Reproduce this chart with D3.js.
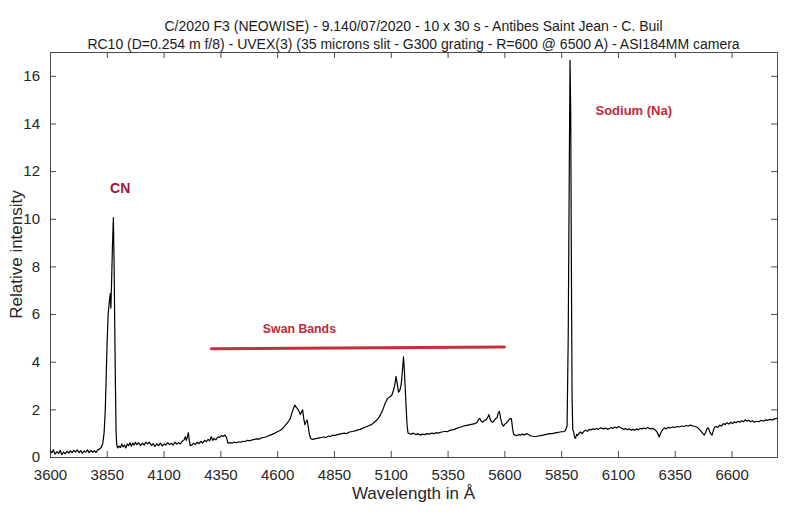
<!DOCTYPE html>
<html>
<head>
<meta charset="utf-8">
<script src="https://cdn.jsdelivr.net/npm/d3@7/dist/d3.min.js"></script>
<style>
  html, body { margin: 0; padding: 0; background: #ffffff; }
  svg { display: block; }
</style>
</head>
<body>
<svg id="chart" width="799" height="518"></svg>
<script>
// ---------- data ----------
const titleLines = [
  "C/2020 F3 (NEOWISE) - 9.140/07/2020 - 10 x 30 s - Antibes Saint Jean - C. Buil",
  "RC10 (D=0.254 m f/8) - UVEX(3) (35 microns slit - G300 grating - R=600 @ 6500 A) - ASI184MM camera"
];
const xTicks = [3600, 3850, 4100, 4350, 4600, 4850, 5100, 5350, 5600, 5850, 6100, 6350, 6600];
const yTicks = [0, 2, 4, 6, 8, 10, 12, 14, 16];
const xLabel = "Wavelength in Å";
const yLabel = "Relative intensity";

const wavelength = [
 3600,3608,3615,3622,3630,3638,3645,3652,3660,3668,3675,3683,3690,3698,3705,3712,3720,3728,3735,3742,
 3750,3758,3765,3772,3780,3788,3795,3803,3810,3818,3825,3832,3838,3843,3847,3851,3856,3861,3865,3868,
 3871,3875,3879,3882,3885,3888,3891,3894,3898,3904,3910,3916,3922,3928,3934,3940,3946,3952,3958,3964,
 3970,3976,3982,3990,3998,4006,4014,4022,4030,4038,4046,4054,4062,4070,4078,4086,4094,4102,4110,4118,
 4126,4134,4142,4150,4158,4166,4174,4182,4190,4196,4200,4204,4209,4213,4217,4224,4232,4240,4248,4256,
 4264,4272,4280,4288,4296,4303,4310,4316,4322,4330,4338,4346,4354,4362,4370,4377,4383,4390,4400,4410,
 4420,4430,4440,4450,4460,4470,4480,4490,4500,4510,4520,4530,4540,4550,4560,4570,4580,4590,4600,4610,
 4620,4630,4640,4650,4658,4665,4672,4678,4684,4690,4696,4702,4707,4712,4717,4722,4727,4732,4737,4742,
 4747,4755,4765,4775,4785,4795,4805,4815,4825,4835,4845,4855,4865,4875,4885,4895,4905,4915,4925,4935,
 4945,4955,4965,4975,4985,4995,5005,5015,5025,5035,5045,5055,5065,5075,5085,5095,5105,5112,5118,5123,
 5128,5134,5140,5146,5151,5156,5160,5164,5168,5172,5176,5182,5190,5200,5210,5220,5230,5240,5250,5260,
 5270,5280,5290,5300,5310,5320,5330,5340,5350,5360,5370,5380,5390,5400,5410,5420,5430,5440,5450,5460,
 5470,5480,5487,5492,5498,5505,5512,5520,5527,5532,5537,5542,5548,5555,5562,5568,5573,5578,5584,5590,
 5596,5602,5608,5614,5620,5626,5631,5636,5641,5648,5656,5664,5672,5680,5688,5696,5704,5712,5720,5730,
 5740,5750,5760,5770,5780,5790,5800,5810,5820,5830,5840,5850,5860,5868,5876,5881,5885,5889,5892,5895,
 5898,5901,5905,5909,5913,5918,5923,5928,5935,5942,5950,5958,5966,5974,5982,5990,5998,6006,6014,6022,
 6030,6038,6046,6054,6062,6070,6078,6086,6094,6102,6110,6118,6126,6134,6142,6150,6158,6166,6174,6182,
 6190,6198,6206,6214,6222,6230,6238,6246,6254,6262,6270,6276,6282,6287,6292,6298,6305,6312,6320,6330,
 6340,6350,6360,6370,6380,6390,6400,6410,6420,6430,6440,6450,6458,6466,6474,6480,6486,6492,6497,6503,
 6509,6514,6520,6526,6532,6540,6548,6556,6564,6572,6580,6588,6596,6604,6612,6620,6628,6636,6644,6652,
 6660,6668,6676,6684,6692,6700,6710,6720,6730,6740,6750,6760,6770,6780,6790,6800
];
const intensity = [
 0.25,0.18,0.30,0.12,0.22,0.15,0.28,0.10,0.20,0.14,0.24,0.16,0.26,0.18,0.28,0.20,0.30,0.18,0.27,0.16,
 0.25,0.20,0.30,0.18,0.28,0.20,0.26,0.19,0.30,0.33,0.40,0.55,1.00,1.90,3.20,4.70,6.00,6.50,6.85,6.25,
 7.30,8.90,10.05,8.20,5.50,3.00,1.00,0.50,0.38,0.46,0.40,0.55,0.42,0.50,0.38,0.55,0.48,0.60,0.45,0.58,
 0.50,0.62,0.52,0.60,0.48,0.58,0.50,0.62,0.55,0.62,0.48,0.56,0.44,0.55,0.48,0.58,0.46,0.55,0.50,0.60,
 0.52,0.58,0.50,0.62,0.54,0.60,0.55,0.66,0.72,0.85,0.70,0.82,1.02,0.70,0.48,0.50,0.58,0.52,0.62,0.56,
 0.66,0.58,0.70,0.64,0.74,0.68,0.86,0.70,0.78,0.72,0.84,0.82,0.90,0.86,0.92,0.82,0.58,0.60,0.58,0.62,
 0.60,0.64,0.62,0.66,0.65,0.70,0.68,0.72,0.74,0.76,0.75,0.80,0.82,0.84,0.88,0.92,0.96,1.00,1.06,1.10,
 1.16,1.26,1.38,1.50,1.62,1.85,2.05,2.18,2.08,2.02,1.92,1.78,1.88,1.98,1.60,1.36,1.48,1.55,1.25,0.95,
 0.78,0.74,0.76,0.78,0.80,0.82,0.84,0.82,0.88,0.86,0.92,0.90,0.94,0.96,0.98,1.00,0.98,1.04,1.06,1.08,
 1.10,1.14,1.16,1.20,1.24,1.28,1.32,1.36,1.44,1.52,1.62,1.78,1.98,2.25,2.45,2.52,2.60,2.80,3.05,3.38,
 3.10,2.72,2.80,3.05,3.60,4.20,3.60,2.80,2.00,1.30,1.00,0.98,0.96,1.00,0.94,0.98,0.92,0.96,0.94,0.98,
 0.96,1.00,0.98,1.02,1.00,1.04,1.06,1.08,1.06,1.12,1.14,1.16,1.20,1.24,1.26,1.30,1.32,1.34,1.36,1.38,
 1.40,1.46,1.58,1.62,1.50,1.46,1.54,1.56,1.68,1.78,1.60,1.50,1.46,1.52,1.62,1.66,1.84,1.92,1.60,1.38,
 1.30,1.38,1.42,1.48,1.56,1.62,1.60,1.20,0.95,0.92,0.90,0.94,0.92,0.96,0.92,0.98,0.96,0.90,0.88,0.86,
 0.86,0.88,0.90,0.92,0.94,0.96,0.98,0.98,1.00,1.02,1.04,1.06,1.06,1.10,1.30,5.00,11.00,16.65,14.50,8.00,
 2.50,1.15,1.05,0.82,0.78,0.95,0.90,1.00,1.05,0.98,1.08,1.12,1.08,1.16,1.14,1.18,1.16,1.20,1.16,1.22,
 1.20,1.18,1.22,1.16,1.20,1.24,1.20,1.26,1.22,1.28,1.24,1.20,1.16,1.20,1.14,1.18,1.12,1.16,1.12,1.18,
 1.14,1.20,1.18,1.22,1.18,1.24,1.20,1.18,1.20,1.14,1.08,0.96,0.84,0.98,1.08,1.16,1.22,1.18,1.24,1.22,
 1.26,1.24,1.28,1.26,1.30,1.28,1.32,1.30,1.34,1.30,1.28,1.24,1.16,1.08,0.98,0.92,1.04,1.20,1.22,1.08,
 0.96,0.92,1.12,1.26,1.28,1.24,1.34,1.30,1.40,1.36,1.44,1.38,1.46,1.40,1.48,1.44,1.50,1.46,1.52,1.48,
 1.56,1.50,1.54,1.48,1.52,1.46,1.50,1.48,1.54,1.50,1.56,1.54,1.58,1.56,1.60,1.62
];

// annotations (in data coordinates)
const annoLabels = ["CN", "Swan Bands", "Sodium (Na)"];
const annoX = [3909, 4537, 6001];
const annoY = [11.1, 5.2, 14.37];
const swanLineX = [4310, 5600];
const swanLineY = [4.54, 4.62];

// ---------- layout ----------
const W = 799, H = 518;
const margin = { left: 50, right: 22, top: 52, bottom: 61 };
const svg = d3.select("#chart");
const x = d3.scaleLinear().domain([3600, 6800]).range([margin.left, W - margin.right]);
const y = d3.scaleLinear().domain([0, 17]).range([H - margin.bottom, margin.top]);

const font = "'Liberation Sans', Arial, Helvetica, sans-serif";
const axisColor = "#262626";

// title
svg.selectAll("text.title").data(titleLines).join("text")
  .attr("class", "title")
  .attr("x", (x.range()[0] + x.range()[1]) / 2)
  .attr("y", (d, i) => 31 + i * 18)
  .attr("text-anchor", "middle")
  .attr("font-family", font)
  .attr("font-size", 14)
  .attr("fill", "#1a1a1a")
  .text(d => d);

// axes (MATLAB-like: ticks inside, box on)
const tickLen = 6;
const gx = svg.append("g").attr("transform", `translate(0,${y(0)})`)
  .call(d3.axisBottom(x).tickValues(xTicks).tickSize(-tickLen).tickPadding(tickLen + 6).tickFormat(d3.format("d")));
const gxTop = svg.append("g").attr("transform", `translate(0,${y.range()[1]})`)
  .call(d3.axisTop(x).tickValues(xTicks).tickSize(-tickLen).tickFormat(""));
const gy = svg.append("g").attr("transform", `translate(${x.range()[0]},0)`)
  .call(d3.axisLeft(y).tickValues(yTicks).tickSize(-tickLen).tickPadding(tickLen + 4).tickFormat(d3.format("d")));
const gyR = svg.append("g").attr("transform", `translate(${x.range()[1]},0)`)
  .call(d3.axisRight(y).tickValues(yTicks).tickSize(-tickLen).tickFormat(""));

[gx, gxTop, gy, gyR].forEach(g => {
  g.select(".domain").attr("stroke", "#4a4a4a").attr("stroke-width", 1);
  g.selectAll(".tick line").attr("stroke", "#4a4a4a").attr("stroke-width", 1);
  g.selectAll(".tick text").attr("font-family", font).attr("font-size", 15).attr("fill", axisColor);
});

// spectrum line
const pts = wavelength.map((w, i) => [w, intensity[i]]);
svg.append("path")
  .datum(pts)
  .attr("fill", "none")
  .attr("stroke", "#000")
  .attr("stroke-width", 1.2)
  .attr("stroke-linejoin", "round")
  .attr("d", d3.line().x(d => x(d[0])).y(d => y(d[1])));

// axis labels
svg.append("text")
  .attr("x", (x.range()[0] + x.range()[1]) / 2)
  .attr("y", 499)
  .attr("text-anchor", "middle")
  .attr("font-family", font).attr("font-size", 17).attr("fill", axisColor)
  .text(xLabel);
svg.append("text")
  .attr("transform", `translate(22,${(y.range()[0] + y.range()[1]) / 2}) rotate(-90)`)
  .attr("text-anchor", "middle")
  .attr("font-family", font).attr("font-size", 17).attr("fill", axisColor)
  .text(yLabel);

// annotations
svg.append("line")
  .attr("x1", x(swanLineX[0])).attr("x2", x(swanLineX[1]))
  .attr("y1", y(swanLineY[0])).attr("y2", y(swanLineY[1]))
  .attr("stroke", "#c9303e").attr("stroke-width", 3).attr("stroke-linecap", "round");

const annoColors = ["#a3123a", "#c4283a", "#c4283a"];
const annoSizes = [14, 12.3, 13];
const annoAnchor = ["middle", "start", "start"];
svg.selectAll("text.anno").data(annoLabels).join("text")
  .attr("class", "anno")
  .attr("x", (d, i) => x(annoX[i]))
  .attr("y", (d, i) => y(annoY[i]))
  .attr("text-anchor", (d, i) => annoAnchor[i])
  .attr("font-family", font)
  .attr("font-weight", "bold")
  .attr("font-size", (d, i) => annoSizes[i])
  .attr("fill", (d, i) => annoColors[i])
  .text(d => d);
</script>
</body>
</html>
